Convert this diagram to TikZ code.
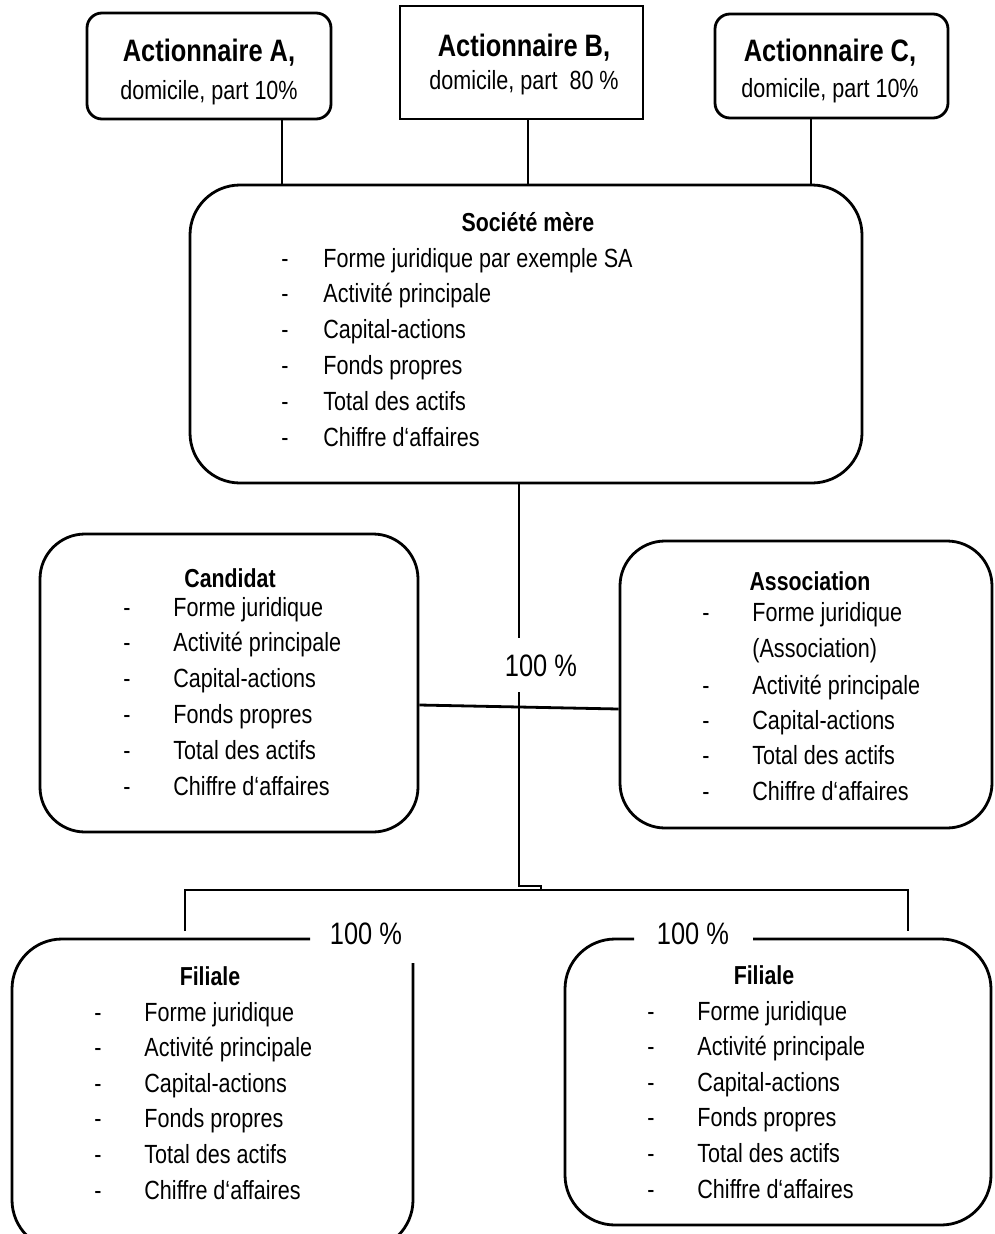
\documentclass[tikz,border=0pt]{standalone}
\usepackage{fontspec}
\setmainfont{Liberation Sans}[FakeStretch=0.82]
\newcommand\itemlist[6]{%
  \foreach \t [count=\i] in {#6} {%
    \node[dsh] (#1d\i) at ({#2},{#4+(\i-1)*#5}) {-};
    \node[itm] (#1t\i) at ({#3},{#4+(\i-1)*#5}) {\t};
  }}
\begin{document}
\begin{tikzpicture}[x=1pt,y=-1pt,line width=2.8pt,
  box/.style={draw,line width=2.8pt,inner sep=0pt},
  hd/.style={font=\fontsize{26}{30}\selectfont\bfseries,anchor=base,inner sep=0pt},
  ahd/.style={font=\fontsize{31}{36}\selectfont\bfseries,anchor=base,inner sep=0pt},
  itm/.style={font=\fontsize{26.3}{31}\selectfont,anchor=base west,inner sep=0pt},
  dsh/.style={font=\fontsize{26.3}{31}\selectfont,anchor=base,inner sep=0pt},
  pct/.style={font=\fontsize{31}{36}\selectfont,anchor=base,inner sep=0pt}]
\useasboundingbox (0,0) rectangle (995,1234);

% shareholders
\node[box,rounded corners=15pt,minimum width=244pt,minimum height=106pt] (A) at (209,66) {};
\node[box,minimum width=243pt,minimum height=113pt] (B) at (521.5,62.5) {};
\node[box,rounded corners=15pt,minimum width=233pt,minimum height=104pt] (C) at (831.5,66) {};
\node[ahd] (Ah) at (209,61) {Actionnaire A,};
\node[dsh] (Ad) at (209,99) {domicile, part 10\%};
\node[ahd] (Bh) at (524,56) {Actionnaire B,};
\node[dsh] (Bd) at (524,89) {domicile, part~~80 \%};
\node[ahd] (Ch) at (830,61) {Actionnaire C,};
\node[dsh] (Cd) at (830,97) {domicile, part 10\%};

% parent company
\node[box,rounded corners=50pt,minimum width=672pt,minimum height=298pt] (mere) at (526,334) {};
\node[hd] (mereh) at (528,231) {Société mère};
\itemlist{m}{285}{322}{267}{35.8}{Forme juridique par exemple SA,Activité principale,Capital-actions,Fonds propres,Total des actifs,Chiffre d‘affaires}

% candidate
\node[box,rounded corners=45pt,minimum width=378pt,minimum height=298pt] (cand) at (229,683) {};
\node[hd] (candh) at (230,587) {Candidat};
\itemlist{c}{127}{172}{616}{35.8}{Forme juridique,Activité principale,Capital-actions,Fonds propres,Total des actifs,Chiffre d‘affaires}

% association
\node[box,rounded corners=45pt,minimum width=372pt,minimum height=287pt] (assoc) at (806,684.5) {};
\node[hd] (assoch) at (810,590) {Association};
\node[dsh] (ad1) at (706,621) {-};
\node[itm] (at1) at (751,621) {Forme juridique};
\node[itm] (at2) at (751,657) {(Association)};
\node[dsh] (ad3) at (706,694) {-};
\node[itm] (at3) at (751,694) {Activité principale};
\node[dsh] (ad4) at (706,729) {-};
\node[itm] (at4) at (751,729) {Capital-actions};
\node[dsh] (ad5) at (706,764) {-};
\node[itm] (at5) at (751,764) {Total des actifs};
\node[dsh] (ad6) at (706,800) {-};
\node[itm] (at6) at (751,800) {Chiffre d‘affaires};

% subsidiaries
\draw[rounded corners=50pt] (413,963) -- (413,1250) -- (12,1250) -- (12,939) -- (310,939);
\draw[rounded corners=50pt] (634,939) -- (565,939) -- (565,1225) -- (991,1225) -- (991,939) -- (753,939);
\node[pct] (pl) at (366,944) {100 \%};
\node[pct] (pr) at (693,944) {100 \%};
\node[hd] (flh) at (210,985) {Filiale};
\itemlist{l}{98}{143}{1021}{35.6}{Forme juridique,Activité principale,Capital-actions,Fonds propres,Total des actifs,Chiffre d‘affaires}
\node[hd] (frh) at (764,984) {Filiale};
\itemlist{r}{651}{696}{1020}{35.6}{Forme juridique,Activité principale,Capital-actions,Fonds propres,Total des actifs,Chiffre d‘affaires}

% connectors
\coordinate (xa) at (282,0);
\coordinate (xb) at (528,0);
\coordinate (xc) at (811,0);
\draw (xa |- A.south) -- (xa |- mere.north);
\draw (xb |- B.south) -- (xb |- mere.north);
\draw (xc |- C.south) -- (xc |- mere.north);

\coordinate (xm) at (519,0);
\coordinate (m1) at (519,638);
\coordinate (m2) at (519,692);
\coordinate (m3) at (519,886);
\coordinate (m4) at (541,886);
\coordinate (m5) at (541,890);
\draw (xm |- mere.south) -- (m1);
\node[pct] (pc) at (541,676) {100 \%};
\draw ([yshift=-22pt]cand.east) -- ([yshift=-24.5pt]assoc.west);
\draw (m2) -- (m3) -- (m4) -- (m5);
\coordinate (bl) at (185,931);
\coordinate (br) at (908,931);
\draw (bl) -- (185,890) -- (m5) -- (908,890) -- (br);
\end{tikzpicture}
\end{document}
